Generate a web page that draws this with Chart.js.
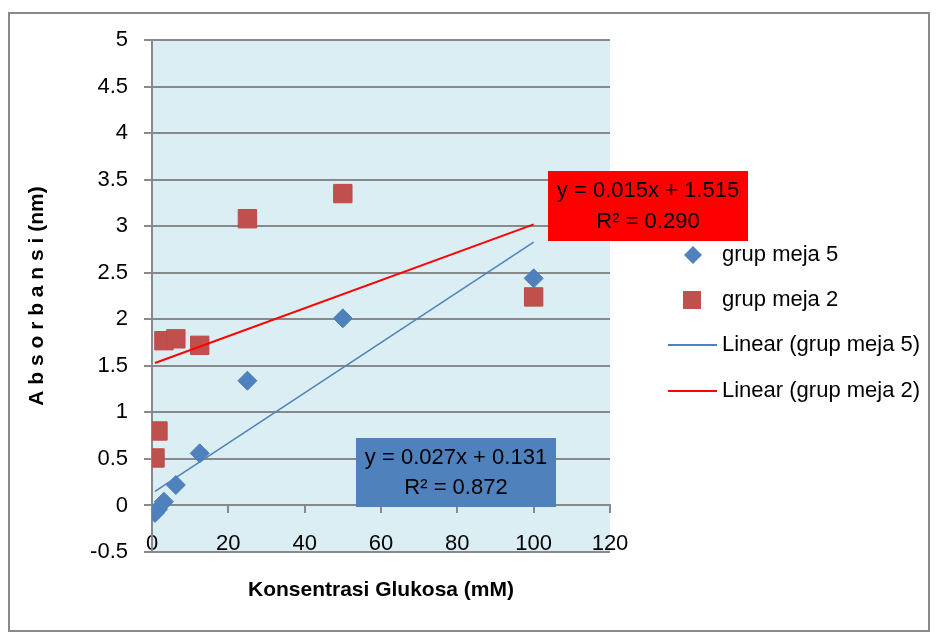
<!DOCTYPE html>
<html>
<head>
<meta charset="utf-8">
<script src="https://cdn.jsdelivr.net/npm/chart.js@4.4.1/dist/chart.umd.min.js"></script>
<style>
  html, body { margin: 0; padding: 0; background: #fff; }
  #wrap { width: 938px; height: 633px; position: relative; }
</style>
</head>
<body>
<div id="wrap"><canvas id="kurva" width="938" height="633"></canvas></div>
<script>
// data
const konsentrasi = [0.78125, 1.5625, 3.125, 6.25, 12.5, 25, 50, 100];
const meja5 = [-0.08, -0.04, 0.04, 0.22, 0.56, 1.34, 2.01, 2.44];
const meja2 = [0.51, 0.80, 1.77, 1.79, 1.72, 3.08, 3.35, 2.24];

// trendline ends (Excel linear trendlines)
const trendX = [0.78125, 100];
const trend5 = [0.15, 2.83];
const trend2 = [1.53, 3.02];

const eq5 = ['y = 0.027x + 0.131', 'R² = 0.872'];
const eq2 = ['y = 0.015x + 1.515', 'R² = 0.290'];

const FONT = '"Liberation Sans Narrow", "Arial Narrow", "Liberation Sans", sans-serif';
const GRID = '#898989';
const BLUE = '#4F81BD';
const MAROON = '#C0504D';

Chart.defaults.font.family = FONT;
Chart.defaults.color = '#000';

// white page, outer frame, light blue plot area
const chartBg = {
    id: 'chartBg',
    beforeDraw(chart) {
        const { ctx, chartArea: a } = chart;
        ctx.save();
        ctx.fillStyle = '#fff';
        ctx.fillRect(0, 0, chart.width, chart.height);
        ctx.strokeStyle = GRID;
        ctx.lineWidth = 2;
        ctx.strokeRect(9, 13, 920, 618);
        ctx.fillStyle = '#DBEEF4';
        ctx.fillRect(a.left, a.top, a.right - a.left, a.bottom - a.top);
        ctx.restore();
    }
};

// equation boxes + legend on the right
const extras = {
    id: 'extras',
    afterDraw(chart) {
        const ctx = chart.ctx;
        ctx.save();

        function eqBox(x, y, w, h, fill, lines) {
            ctx.fillStyle = fill;
            ctx.fillRect(x, y, w, h);
            ctx.fillStyle = '#000';
            ctx.font = '22px ' + FONT;
            ctx.textAlign = 'center';
            ctx.textBaseline = 'middle';
            ctx.fillText(lines[0], x + w / 2, y + h * 0.29);
            ctx.fillText(lines[1], x + w / 2, y + h * 0.73);
        }
        eqBox(548, 171, 200, 70, '#FF0000', eq2);
        eqBox(356, 438, 200, 69, BLUE, eq5);

        // legend
        const ds = chart.data.datasets;
        const rows = [255, 300, 345, 391];
        ctx.font = '22px ' + FONT;
        ctx.textAlign = 'left';
        ctx.textBaseline = 'middle';

        // diamond
        ctx.fillStyle = BLUE;
        ctx.beginPath();
        ctx.moveTo(693, rows[0] - 9);
        ctx.lineTo(702, rows[0]);
        ctx.lineTo(693, rows[0] + 9);
        ctx.lineTo(684, rows[0]);
        ctx.closePath();
        ctx.fill();
        // square
        ctx.fillStyle = MAROON;
        ctx.fillRect(683, rows[1] - 9, 18, 18);
        // lines
        ctx.lineWidth = 2;
        ctx.strokeStyle = BLUE;
        ctx.beginPath(); ctx.moveTo(668, rows[2]); ctx.lineTo(717, rows[2]); ctx.stroke();
        ctx.strokeStyle = '#FF0000';
        ctx.beginPath(); ctx.moveTo(668, rows[3]); ctx.lineTo(717, rows[3]); ctx.stroke();

        ctx.fillStyle = '#000';
        ds.forEach((d, i) => ctx.fillText(d.label, 722, rows[i]));
        ctx.restore();
    }
};

const ctx = document.getElementById('kurva').getContext('2d');
const kurva = new Chart(ctx, {
    type: 'scatter',
    data: {
        datasets: [
            {
                label: 'grup meja 5',
                data: konsentrasi.map((x, i) => ({ x: x, y: meja5[i] })),
                pointStyle: 'rectRot',
                pointRadius: 9.5,
                backgroundColor: BLUE,
                borderColor: '#4A7EBB',
                borderWidth: 1,
                order: 2
            },
            {
                label: 'grup meja 2',
                data: konsentrasi.map((x, i) => ({ x: x, y: meja2[i] })),
                pointStyle: 'rect',
                pointRadius: 13,
                backgroundColor: MAROON,
                borderColor: '#BE4B48',
                borderWidth: 1,
                order: 2
            },
            {
                label: 'Linear (grup meja 5)',
                data: trendX.map((x, i) => ({ x: x, y: trend5[i] })),
                showLine: true,
                borderColor: BLUE,
                borderWidth: 1.5,
                pointRadius: 0,
                order: 1
            },
            {
                label: 'Linear (grup meja 2)',
                data: trendX.map((x, i) => ({ x: x, y: trend2[i] })),
                showLine: true,
                borderColor: '#FF0000',
                borderWidth: 2,
                pointRadius: 0,
                order: 1
            }
        ]
    },
    options: {
        responsive: false,
        animation: false,
        devicePixelRatio: 1,
        layout: { padding: { top: 40, right: 328, left: 0, bottom: 0 } },
        plugins: {
            legend: { display: false },
            tooltip: { enabled: false }
        },
        scales: {
            x: {
                type: 'linear',
                position: { y: 0 },
                min: 0,
                max: 120,
                ticks: { stepSize: 20, font: { size: 22 }, padding: 18, color: '#000' },
                grid: { drawOnChartArea: false, color: GRID, lineWidth: 2, tickLength: 7 },
                border: { color: GRID, width: 2 }
            },
            xt: {
                type: 'linear',
                position: 'bottom',
                min: 0,
                max: 120,
                ticks: { display: false },
                grid: { display: false, drawTicks: false },
                border: { display: false },
                title: {
                    display: true,
                    text: 'Konsentrasi Glukosa (mM)',
                    font: { size: 21, weight: 'bold' },
                    padding: { top: 0, bottom: 30 }
                },
                afterFit(s) { s.height = 81; }
            },
            y: {
                min: -0.5,
                max: 5,
                ticks: {
                    stepSize: 0.5,
                    font: { size: 22 },
                    padding: 16,
                    color: '#000',
                    callback: v => String(Number(v.toFixed(1)))
                },
                grid: { color: GRID, lineWidth: 2, tickLength: 8 },
                border: { color: GRID, width: 2 },
                title: {
                    display: true,
                    text: 'A b s o r b a n s i (nm)',
                    font: { size: 21, weight: 'bold' },
                    padding: { top: 25, bottom: 0 }
                },
                afterFit(s) { s.width = 152; }
            }
        }
    },
    plugins: [chartBg, extras]
});
</script>
</body>
</html>
